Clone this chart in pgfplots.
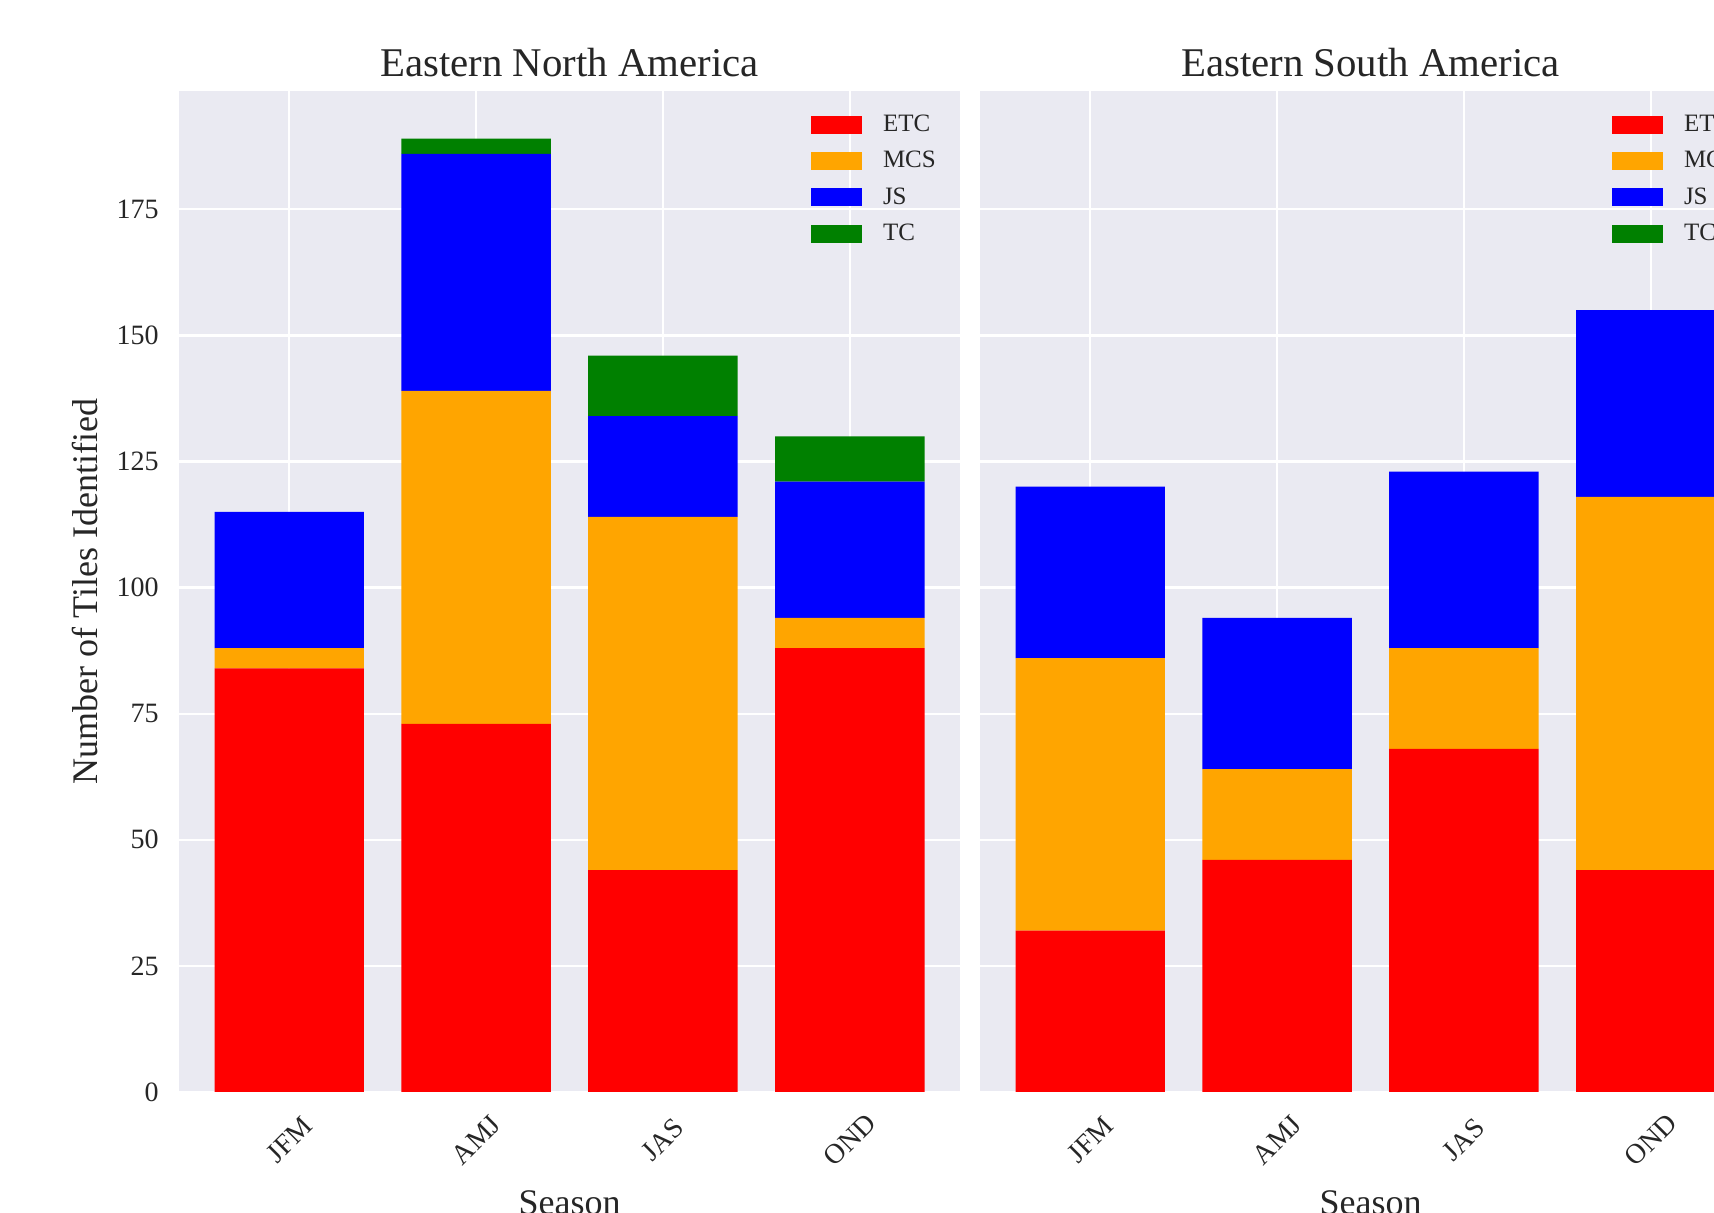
\documentclass[border=0pt]{standalone}
\usepackage{pgfplots}
\pgfplotsset{compat=1.18}
\usepackage{pgfplotstable}
\usepackage{fontspec}
\setmainfont{Liberation Serif}

\definecolor{bgcol}{HTML}{EAEAF2}
\definecolor{txt}{HTML}{262626}
\definecolor{cETC}{RGB}{255,0,0}
\definecolor{cMCS}{RGB}{255,165,0}
\definecolor{cJS}{RGB}{0,0,255}
\definecolor{cTC}{RGB}{0,128,0}

% tiles per season, stacked by type
\pgfplotstableread{
idx ETC MCS JS TC
0 84 4 27 0
1 73 66 47 3
2 44 70 20 12
3 88 6 27 9
}\ena
\pgfplotstableread{
idx ETC MCS JS TC
0 32 54 34 0
1 46 18 30 0
2 68 20 35 0
3 44 74 37 0
}\esa

\pgfplotsset{
  panel/.style={
    ybar stacked,
    bar width=0.8,
    bar shift=0pt,
    anchor=south west,
    scale only axis,
    width=390.5pt, height=500.5pt,
    xmin=-0.59, xmax=3.59,
    ymin=0, ymax=198.45,
    enlargelimits=false,
    xtick={0,1,2,3},
    xticklabels={JFM,AMJ,JAS,OND},
    ytick={0,25,...,175},
    axis background/.style={fill=bgcol},
    axis line style={draw=none},
    major tick length=0pt,
    tick style={draw=none},
    grid=major,
    grid style={white, line width=1.15pt},
    /pgf/number format/assume math mode=true,
    ticklabel style={font=\fontsize{14}{16}\selectfont, text=txt},
    xticklabel style={yshift=-24pt, rotate=45, anchor=center, inner sep=0pt},
    yticklabel style={anchor=east, inner sep=0pt, xshift=-10pt},
    title style={font=\fontsize{20.4}{24}\selectfont, text=txt,
      at={(axis description cs:0.5,1.0025)}, anchor=base, inner sep=0pt},
    xlabel={Season},
    xlabel style={font=\fontsize{18}{20}\selectfont, text=txt,
      at={(axis description cs:0.5,-0.098)}, anchor=north, inner sep=0pt},
    ylabel style={font=\fontsize{18}{20}\selectfont, text=txt,
      at={(axis description cs:-0.1204,0.5)}, anchor=center, inner sep=0pt},
    legend image code/.code={\fill[##1] (0pt,-4.5pt) rectangle (25.5pt,4.5pt);},
    legend cell align=left,
    legend style={draw=none, fill=none, inner sep=0pt, outer sep=0pt,
      at={(axis description cs:0.8092,0.976)}, anchor=north west,
      font=\fontsize{12.5}{14}\selectfont, text=txt,
      row sep=8.4pt, column sep=10.5pt,
      nodes={inner sep=0pt}},
  },
  seg/.style={fill=#1, draw=none},
}

\begin{document}
\begin{tikzpicture}
\begin{axis}[panel, at={(89.5pt,60.5pt)},
  title={Eastern North America},
  ylabel={Number of Tiles Identified}]
\addplot[seg=cETC] table[x=idx, y=ETC] {\ena};
\addlegendentry{ETC}
\addplot[seg=cMCS] table[x=idx, y=MCS] {\ena};
\addlegendentry{MCS}
\addplot[seg=cJS] table[x=idx, y=JS] {\ena};
\addlegendentry{JS}
\addplot[seg=cTC] table[x=idx, y=TC] {\ena};
\addlegendentry{TC}
\end{axis}

\begin{axis}[panel, at={(490pt,60.5pt)},
  title={Eastern South America},
  yticklabels={}]
\addplot[seg=cETC] table[x=idx, y=ETC] {\esa};
\addlegendentry{ETC}
\addplot[seg=cMCS] table[x=idx, y=MCS] {\esa};
\addlegendentry{MCS}
\addplot[seg=cJS] table[x=idx, y=JS] {\esa};
\addlegendentry{JS}
\addplot[seg=cTC] table[x=idx, y=TC] {\esa};
\addlegendentry{TC}
\end{axis}
\pgfresetboundingbox
\path[use as bounding box] (0pt,0pt) rectangle (857pt,606.5pt);
\end{tikzpicture}
\end{document}
